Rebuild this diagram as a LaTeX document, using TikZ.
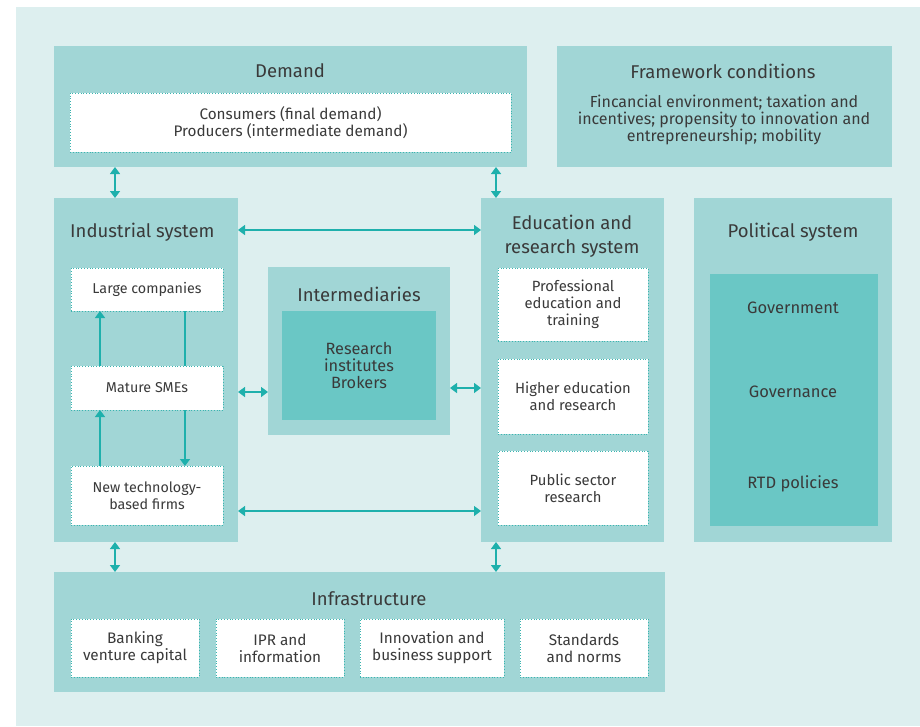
\documentclass[tikz,border=0pt]{standalone}
\usepackage{fontspec}
\setmainfont{Fira Sans}
\usetikzlibrary{arrows.meta}
\definecolor{bgc}{HTML}{DDEFEF}
\definecolor{boxc}{HTML}{A1D6D6}
\definecolor{darkc}{HTML}{6AC7C5}
\definecolor{arrc}{HTML}{1EB0AC}
\definecolor{dotc}{HTML}{3BB5B0}
\definecolor{txtc}{HTML}{3A3A3A}
\newcommand{\fs}[1]{\fontsize{#1}{17}\selectfont}
\begin{document}
\begin{tikzpicture}[x=1pt,y=-1pt,
  panel/.style={fill=boxc, draw=none, anchor=north west, inner sep=0pt, outer sep=0pt},
  whitebox/.style={fill=white, draw=dotc, dotted, line width=0.8pt, anchor=north west, inner sep=0pt, outer sep=0pt,
     text=txtc, font=\fs{14.8}, align=center},
  darkbox/.style={fill=darkc, draw=none, anchor=north west, inner sep=0pt, outer sep=0pt,
     text=txtc, font=\fs{15.5}, align=center},
  title/.style={text=txtc, font=\fontsize{18.5}{24}\selectfont, align=center, inner sep=0pt},
  label/.style={text=txtc, font=\fs{15.5}, align=center, inner sep=0pt},
  link/.style={draw=arrc, line width=1.4pt, {Triangle[width=10pt,length=7pt]}-{Triangle[width=10pt,length=7pt]}},
  flow/.style={draw=arrc, line width=1.4pt, -{Triangle[width=10pt,length=7pt]}},
  plain/.style={draw=arrc, line width=1.4pt},
]
\useasboundingbox (0,0) rectangle (920,726);
\fill[bgc] (16,7) rectangle (920,726);

% panels
\node[panel, minimum width=473pt, minimum height=121pt] (demand) at (54,46) {};
\node[panel, minimum width=335pt, minimum height=121pt] (frame) at (557,46) {};
\node[panel, minimum width=184pt, minimum height=344pt] (indus) at (54,198) {};
\node[panel, minimum width=182pt, minimum height=168pt] (inter) at (268,267) {};
\node[panel, minimum width=183pt, minimum height=344pt] (edu) at (481,198) {};
\node[panel, minimum width=198pt, minimum height=344pt] (pol) at (694,198) {};
\node[panel, minimum width=611pt, minimum height=120pt] (infra) at (54,572) {};

% titles
\node[title] (tdemand) at (290,71) {Demand};
\node[title] (tframe) at (723,71) {Framework conditions};
\node[title, anchor=west] (tindus) at (70,232) {Industrial system};
\node[title] (tedu) at (572,236) {Education and\\research system};
\node[title] (tpol) at (793,232) {Political system};
\node[title] (tinter) at (359,294) {Intermediaries};
\node[title] (tinfra) at (369,599) {Infrastructure};

% framework text
\node[label, font=\fs{16}] (fbody) at (724,120) {Fincancial environment; taxation and\\incentives; propensity to innovation and\\entrepreneurship; mobility};

% demand white box
\node[whitebox, font=\fs{15.3}, minimum width=441pt, minimum height=59pt] (consum) at (70,93) {Consumers (final demand)\\Producers (intermediate demand)};

% industrial boxes
\node[whitebox, font=\fs{14.3}, minimum width=152pt, minimum height=43pt] (large) at (71,268) {Large companies};
\node[whitebox, font=\fs{14.3}, minimum width=152pt, minimum height=44pt] (mature) at (71,366) {Mature SMEs};
\node[whitebox, font=\fs{14.3}, minimum width=152pt, minimum height=59pt] (ntbf) at (71,466) {New technology-\\based firms};

% intermediaries inner
\node[darkbox, font=\fs{16.3}, minimum width=154pt, minimum height=109pt] (rib) at (282,311) {Research\\institutes\\Brokers};

% education boxes
\node[whitebox, minimum width=150pt, minimum height=73pt] (prof) at (498,268) {Professional\\education and\\training};
\node[whitebox, minimum width=150pt, minimum height=75pt] (higher) at (498,359) {Higher education\\and research};
\node[whitebox, minimum width=150pt, minimum height=74pt] (public) at (498,451) {Public sector\\research};

% political inner
\node[darkbox, minimum width=168pt, minimum height=252pt] (polin) at (710,274) {};
\node[label, font=\fs{16.5}] (gov) at (793,308) {Government};
\node[label, font=\fs{16.5}] (govn) at (793,392) {Governance};
\node[label, font=\fs{16.5}] (rtd) at (793,484) {RTD policies};

% infrastructure boxes
\node[whitebox, font=\fs{15.3}, minimum width=128pt, minimum height=58pt] (bank) at (71,619) {Banking\\venture capital};
\node[whitebox, font=\fs{15.3}, minimum width=128pt, minimum height=58pt] (ipr) at (216,619) {IPR and\\information};
\node[whitebox, font=\fs{15.3}, minimum width=144pt, minimum height=58pt] (innov) at (360,619) {Innovation and\\business support};
\node[whitebox, font=\fs{15.3}, minimum width=128pt, minimum height=58pt] (stand) at (520,619) {Standards\\and norms};

% helper coordinates
\coordinate (xa) at (115,0);
\coordinate (xb) at (496,0);
\coordinate (xl) at (100,0);
\coordinate (xr) at (185,0);
\coordinate (y1) at (0,230);
\coordinate (y2) at (0,392);
\coordinate (y3) at (0,388);
\coordinate (y4) at (0,511);

% connectors
\draw[link] (demand.south -| xa) -- (indus.north -| xa);
\draw[link] (demand.south -| xb) -- (edu.north -| xb);
\draw[link] (indus.east |- y1) -- (edu.west |- y1);
\draw[link] (indus.east |- y2) -- (inter.west |- y2);
\draw[link] (inter.east |- y3) -- (edu.west |- y3);
\draw[link] (indus.east |- y4) -- (edu.west |- y4);
\draw[link] (indus.south -| xa) -- (infra.north -| xa);
\draw[link] (edu.south -| xb) -- (infra.north -| xb);

\draw[flow] (ntbf.north -| xl) -- (mature.south -| xl);
\draw[flow] (mature.north -| xl) -- (large.south -| xl);
\draw[plain] (large.south -| xr) -- (mature.north -| xr);
\draw[flow] (mature.south -| xr) -- (ntbf.north -| xr);
\end{tikzpicture}
\end{document}
